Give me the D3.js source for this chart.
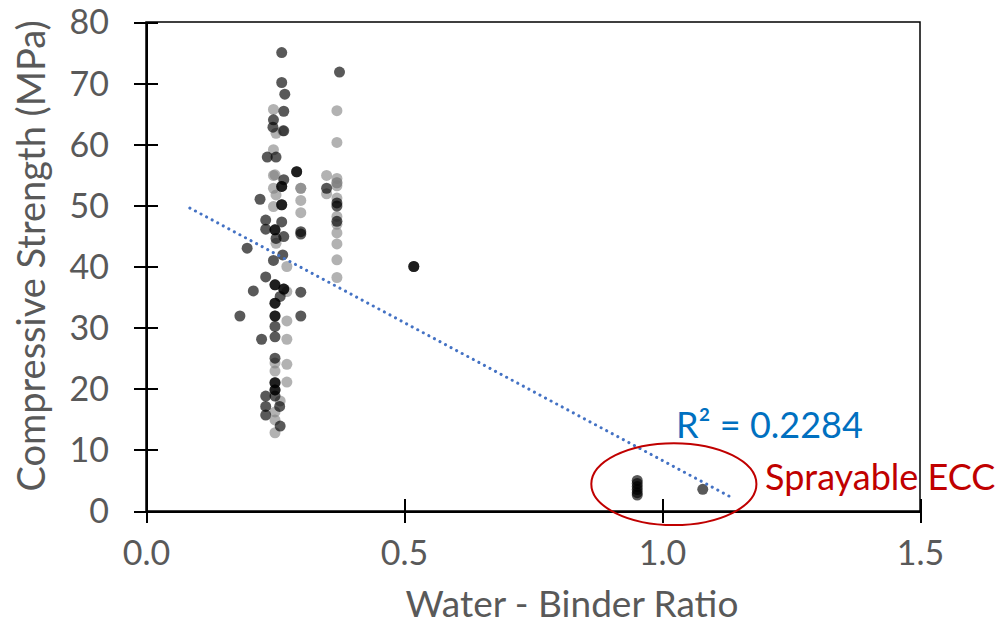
<!DOCTYPE html>
<html>
<head>
<meta charset="utf-8">
<script src="https://cdn.jsdelivr.net/npm/d3@7"></script>
<style>
html,body{margin:0;padding:0;background:#fff;}
svg{display:block;}
</style>
</head>
<body>
<svg id="chart" width="1004" height="625"></svg>
<script>
// ---- data ----
const xTicks = [0.0, 0.5, 1.0, 1.5];
const yTicks = [0, 10, 20, 30, 40, 50, 60, 70, 80];
const xTitle = "Water - Binder Ratio";
const yTitle = "Compressive Strength (MPa)";

// dark series (overlapping duplicates appear darker)
const darkX = [0.263,0.263,0.269,0.267,0.247,0.246,0.267,0.235,0.252,0.292,0.292,0.267,0.263,0.263,0.221,0.263,0.263,
  0.232,0.263,0.232,0.25,0.25,0.252,0.267,0.30,0.30,0.196,0.247,0.265,0.232,0.25,0.25,0.267,0.267,0.26,0.208,0.30,
  0.25,0.25,0.25,0.25,0.182,0.30,0.25,0.25,0.224,0.25,0.25,0.25,0.25,0.25,0.232,0.25,0.232,0.259,0.232,0.26,
  0.519,0.519,0.375,0.35,0.37,0.37,0.37,
  0.952,0.952,0.952,0.952,0.952,0.952,1.079];
const darkY = [75.0,70.1,68.2,65.4,64.0,62.8,62.2,57.9,57.9,55.5,55.5,54.2,53.1,53.1,51.0,50.1,50.1,
  47.6,47.3,46.1,46.0,46.0,44.6,44.9,45.7,45.3,43.0,41.0,41.9,38.3,37.0,37.0,36.3,36.3,35.1,36.0,35.8,
  34.0,34.0,31.9,31.9,31.9,31.9,30.2,28.5,28.1,25.0,21.0,21.0,19.8,19.8,18.8,18.8,17.1,17.1,15.7,13.9,
  40.0,40.0,71.8,52.8,50.4,49.9,47.4,
  5.0,4.5,4.0,3.5,3.0,2.6,3.55];

// light series
const lightX = [0.247,0.252,0.247,0.247,0.247,0.30,0.30,0.252,0.30,0.247,0.30,0.252,0.273,0.273,0.273,0.273,
  0.25,0.25,0.273,0.273,0.25,0.25,0.25,0.26,0.265,0.25,
  0.37,0.37,0.35,0.37,0.37,0.37,0.37,0.35,0.37,0.37,0.37,0.37,0.37,0.37,0.37];
const lightY = [65.7,61.8,59.1,54.9,52.8,52.8,52.8,51.7,50.8,49.8,48.8,43.8,40.0,35.9,31.1,28.1,
  24.2,22.9,24.0,21.1,16.2,14.9,12.8,18.0,62.2,55.0,
  65.5,60.3,54.9,54.4,53.7,53.7,53.2,51.9,51.2,48.2,46.9,45.5,43.7,41.1,38.2];

// linear trendline (as drawn): y = slope*x + intercept
const trendSlope = -45.1;
const trendIntercept = 53.4;
const trendRange = [0.085, 1.135];
const r2Label = "R² = 0.2284";
const highlightLabel = "Sprayable ECC";
const highlightCenter = [1.023, 4.4];  // data coords of ellipse centre
const highlightRadius = [0.16, 6.7];   // data units

// ---- layout ----
const svg = d3.select("#chart");
const mL = 146, mR = 920, mT = 22, mB = 511;
const x = d3.scaleLinear().domain([0, 1.5]).range([mL, mR]);
const y = d3.scaleLinear().domain([0, 80]).range([mB, mT]);
const FONT = "Lato, 'Open Sans', sans-serif";
const grey = "#595959";

// frame (top/right)
svg.append("rect").attr("x", mL).attr("y", mT).attr("width", mR-mL).attr("height", mB-mT)
  .attr("fill", "none").attr("stroke", "#000").attr("stroke-width", 1.5);

// axes
const yAxis = d3.axisLeft(y).tickValues(yTicks).tickSizeInner(12).tickSizeOuter(0).tickFormat(d3.format("d"));
const gy = svg.append("g").attr("transform", `translate(${mL},0)`).call(yAxis);
gy.select(".domain").attr("stroke", "#000").attr("stroke-width", 2);
gy.selectAll(".tick line").attr("stroke", "#000").attr("stroke-width", 2).attr("x1", 12).attr("x2", -12);
gy.selectAll(".tick text").attr("x", -37).attr("dy", "0.35em").attr("fill", grey)
  .style("font-family", FONT).style("font-size", "34px");

const xAxis = d3.axisBottom(x).tickValues(xTicks).tickSizeInner(12).tickSizeOuter(0).tickFormat(d3.format(".1f"));
const gx = svg.append("g").attr("transform", `translate(0,${mB})`).call(xAxis);
gx.select(".domain").attr("stroke", "#000").attr("stroke-width", 2);
gx.selectAll(".tick line").attr("stroke", "#000").attr("stroke-width", 2).attr("y1", -12).attr("y2", 12);
gx.selectAll(".tick text").attr("y", 42).attr("dy", "0.35em").attr("fill", grey)
  .style("font-family", FONT).style("font-size", "34px");
svg.selectAll(".domain, .tick line").attr("shape-rendering", "crispEdges");

// titles
svg.append("text").attr("x", 572).attr("y", 617).attr("text-anchor", "middle")
  .attr("fill", grey).style("font-family", FONT).style("font-size", "37px").text(xTitle);
svg.append("text").attr("transform", "translate(45,256) rotate(-90)").attr("text-anchor", "middle")
  .attr("fill", grey).style("font-family", FONT).style("font-size", "38px").text(yTitle);

// points
const light = d3.zip(lightX, lightY);
const dark = d3.zip(darkX, darkY);
svg.append("g").selectAll("circle").data(light).join("circle")
  .attr("cx", d => x(d[0])).attr("cy", d => y(d[1])).attr("r", 5.5)
  .attr("fill", "#7f7f7f").attr("fill-opacity", 0.6);
svg.append("g").selectAll("circle").data(dark).join("circle")
  .attr("cx", d => x(d[0])).attr("cy", d => y(d[1])).attr("r", 5.5)
  .attr("fill", "#000").attr("fill-opacity", 0.65);

// trendline
svg.append("line")
  .attr("x1", x(trendRange[0])).attr("y1", y(trendSlope*trendRange[0] + trendIntercept))
  .attr("x2", x(trendRange[1])).attr("y2", y(trendSlope*trendRange[1] + trendIntercept))
  .attr("stroke", "#4472c4").attr("stroke-width", 3).attr("stroke-linecap", "round")
  .attr("stroke-dasharray", "0.1 6.2");

// R² label
svg.append("text").attr("x", 676).attr("y", 438).attr("fill", "#0070c0")
  .style("font-family", FONT).style("font-size", "36px").text(r2Label);

// highlight ellipse
const ecx = x(highlightCenter[0]), ecy = y(highlightCenter[1]);
svg.append("ellipse").attr("cx", ecx).attr("cy", ecy)
  .attr("rx", x(highlightCenter[0] + highlightRadius[0]) - ecx)
  .attr("ry", ecy - y(highlightCenter[1] + highlightRadius[1]))
  .attr("fill", "none").attr("stroke", "#c00000").attr("stroke-width", 2);
svg.append("text").attr("x", 765).attr("y", 490).attr("fill", "#c00000")
  .style("font-family", FONT).style("font-size", "36px").text(highlightLabel);
</script>
</body>
</html>
